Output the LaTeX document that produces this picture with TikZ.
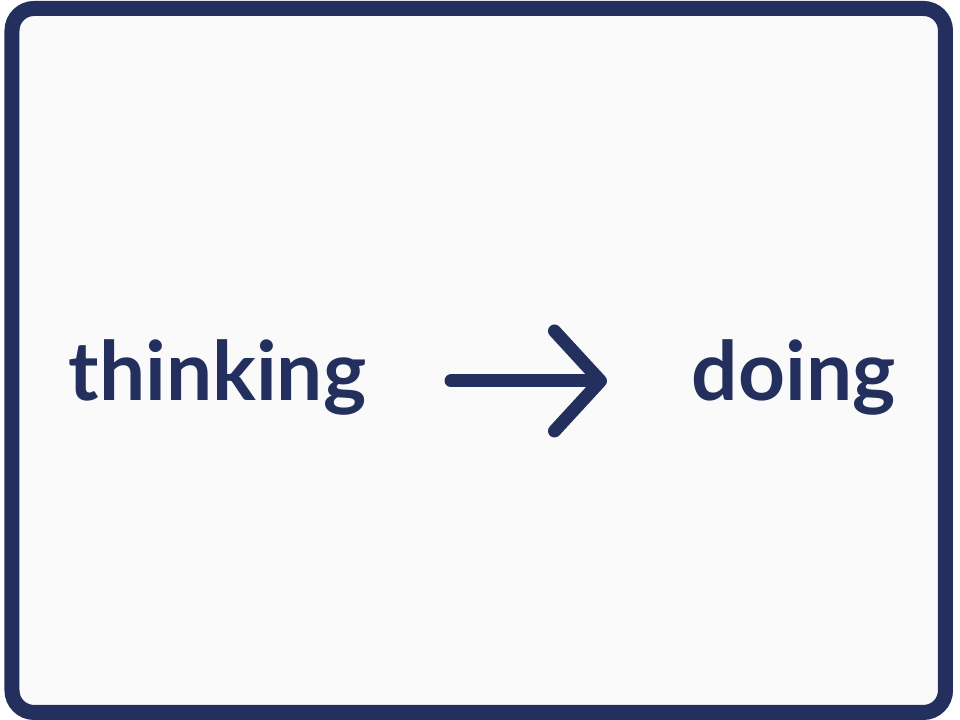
\documentclass[tikz,border=0pt]{standalone}
\usepackage{fontspec}
\setmainfont{Lato}
\usetikzlibrary{arrows.meta}
\definecolor{cnv}{RGB}{35,47,92}
\definecolor{cbg}{RGB}{250,250,250}
\tikzset{word/.style={text=cnv, font=\bfseries\fontsize{23.3}{28}\selectfont, inner sep=0pt}}
\tikzset{flow/.style={cnv, line width=.13cm, line cap=round,
    -{Straight Barb[length=.46cm, width=1cm, line cap=round, line join=round]}}}

\begin{document}
\begin{tikzpicture}
    \useasboundingbox(0, 0)rectangle(9.6, 7.2);
    \draw[cnv, line width=.15cm, fill=cbg, rounded corners=.22cm](.12, .075)rectangle(9.455, 7.115);
    \node[word, anchor=base west](thinking)at(.68, 3.19){thinking};
    \node[word, anchor=base west](doing)at(6.91, 3.19){doing};
    \draw[flow, shorten <=.84cm, shorten >=.84cm]([yshift=.2cm]thinking.base east)--([yshift=.2cm]doing.base west);
\end{tikzpicture}
\end{document}
